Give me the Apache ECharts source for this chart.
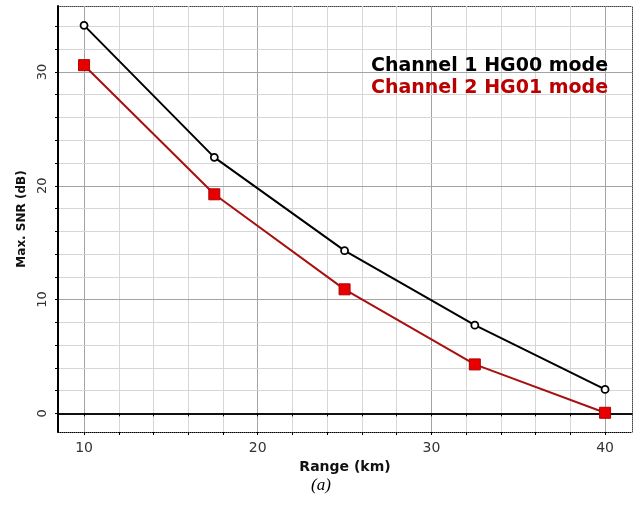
<!DOCTYPE html>
<html style="height: 100%">
<head>
    <meta charset="utf-8">
    <script type="text/javascript" src="https://cdn.jsdelivr.net/npm/echarts@6/dist/echarts.min.js"></script>
</head>
<body style="height: 100%; margin: 0; background: #fff">
<div id="container" style="width: 641px; height: 506px"></div>
<script type="text/javascript">
    // data
    var rangeKm = [10, 17.5, 25, 32.5, 40];
    var snrCh1 = [34.1, 22.5, 14.3, 7.75, 2.1];
    var snrCh2 = [30.6, 19.25, 10.9, 4.3, 0.05];
    var seriesNames = ['Channel 1 HG00 mode', 'Channel 2 HG01 mode'];
    var xTicks = [10, 12, 14, 16, 18, 20, 22, 24, 26, 28, 30, 32, 34, 36, 38, 40];
    var xLabels = [10, 20, 30, 40];
    var yTicks = [0, 2, 4, 6, 8, 10, 12, 14, 16, 18, 20, 22, 24, 26, 28, 30, 32, 34];
    var yLabels = [0, 10, 20, 30];

    var dom = document.getElementById("container");
    var myChart = echarts.init(dom);

    function pairs(xs, ys) {
        return xs.map(function (x, i) {
            return [x, ys[i]];
        });
    }

    // grid lines: darker on the labelled values, light on the rest
    function gridLine(dim, v) {
        var item = {lineStyle: {color: v % 10 === 0 ? '#a3a3a3' : '#d6d6d6', width: 1, type: 'solid'}};
        item[dim] = v;
        if (dim === 'yAxis' && v === 0) item.lineStyle = {color: '#000', width: 1.5, type: 'solid'};
        return item;
    }
    var gridLines = xTicks.map(function (v) { return gridLine('xAxis', v); })
        .concat(yTicks.map(function (v) { return gridLine('yAxis', v); }));

    var font = 'DejaVu Sans';

    var option = {
        animation: false,
        backgroundColor: '#fff',
        grid: {left: 58, right: 9, top: 6, bottom: 74},
        legend: {
            orient: 'vertical',
            left: 361,
            top: 51,
            z: 10,
            icon: 'none',
            itemWidth: 0,
            itemHeight: 20,
            itemGap: 2,
            selectedMode: false,
            textStyle: {fontFamily: font, fontWeight: 'bold', fontSize: 19, lineHeight: 20},
            data: [
                {name: seriesNames[0], textStyle: {color: '#000'}},
                {name: seriesNames[1], textStyle: {color: '#bb0000'}}
            ]
        },
        xAxis: [
            {
                type: 'value',
                min: 8.5,
                max: 41.55,
                position: 'bottom',
                name: 'Range (km)',
                nameLocation: 'middle',
                nameGap: 28,
                nameTextStyle: {fontFamily: font, fontWeight: 'bold', fontSize: 14, color: '#111'},
                axisLine: {onZero: false, lineStyle: {color: '#000', width: 1, type: [1, 1]}},
                axisTick: {show: true, customValues: xTicks, length: 3, lineStyle: {color: '#000'}},
                axisLabel: {customValues: xLabels, margin: 9, fontFamily: font, fontSize: 14, color: '#333'},
                splitLine: {show: false}
            },
            {
                type: 'value',
                min: 8.5,
                max: 41.55,
                position: 'top',
                axisLine: {onZero: false, lineStyle: {color: '#444', width: 1, type: [1, 1]}},
                axisTick: {show: false},
                axisLabel: {show: false},
                splitLine: {show: false}
            },
            {
                type: 'value',
                min: 8.5,
                max: 41.55,
                position: 'bottom',
                z: 3,
                axisLine: {onZero: true, lineStyle: {color: '#000', width: 1.5}},
                axisTick: {show: true, customValues: xTicks, length: 3, lineStyle: {color: '#000'}},
                axisLabel: {show: false},
                splitLine: {show: false}
            }
        ],
        yAxis: [
            {
                type: 'value',
                min: -1.64,
                max: 35.8,
                position: 'left',
                z: 3,
                name: 'Max. SNR (dB)',
                nameLocation: 'middle',
                nameGap: 29,
                nameTextStyle: {fontFamily: font, fontWeight: 'bold', fontSize: 12, color: '#111'},
                axisLine: {show: true, onZero: false, lineStyle: {color: '#000', width: 2}},
                axisTick: {show: true, customValues: yTicks, length: 3, lineStyle: {color: '#000'}},
                axisLabel: {customValues: yLabels, rotate: 90, margin: 9, fontFamily: font, fontSize: 13, color: '#333'},
                splitLine: {show: false}
            },
            {
                type: 'value',
                min: -1.64,
                max: 35.8,
                position: 'right',
                axisLine: {show: true, onZero: false, lineStyle: {color: '#444', width: 1, type: [1, 1]}},
                axisTick: {show: false},
                axisLabel: {show: false},
                splitLine: {show: false}
            }
        ],
        graphic: [{
            type: 'text',
            left: 311,
            top: 477,
            style: {text: '(a)', font: 'italic 17px "Liberation Serif"', fill: '#000'}
        }],
        series: [
            {
                name: 'grid',
                type: 'line',
                xAxisIndex: 0,
                yAxisIndex: 0,
                data: [],
                silent: true,
                z: 1,
                markLine: {
                    silent: true,
                    z: 1,
                    symbol: 'none',
                    label: {show: false},
                    emphasis: {disabled: true},
                    animation: false,
                    data: gridLines
                }
            },
            {
                name: seriesNames[0],
                type: 'line',
                xAxisIndex: 0,
                yAxisIndex: 0,
                data: pairs(rangeKm, snrCh1),
                symbol: 'circle',
                symbolSize: 7,
                lineStyle: {color: '#000', width: 2},
                itemStyle: {color: '#fff', borderColor: '#000', borderWidth: 1.8},
                z: 5
            },
            {
                name: seriesNames[1],
                type: 'line',
                xAxisIndex: 0,
                yAxisIndex: 0,
                data: pairs(rangeKm, snrCh2),
                symbol: 'rect',
                symbolSize: 11,
                lineStyle: {color: '#a81010', width: 2},
                itemStyle: {color: '#e80000', borderColor: '#b00000', borderWidth: 1},
                z: 6
            }
        ]
    };

    myChart.setOption(option);
</script>
</body>
</html>
